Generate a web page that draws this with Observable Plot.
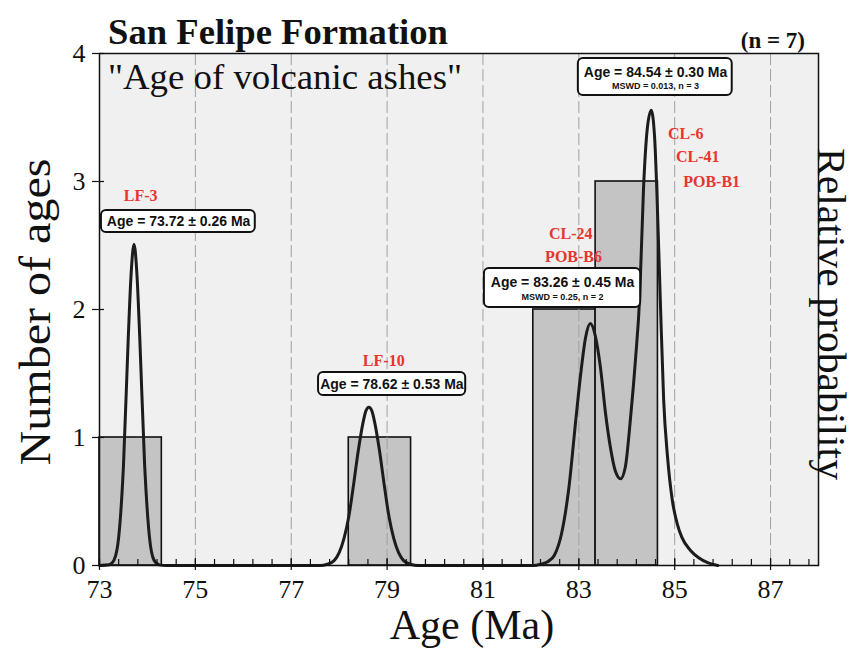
<!DOCTYPE html>
<html><head><meta charset="utf-8">
<script src="https://cdn.jsdelivr.net/npm/d3@7"></script>
<script src="https://cdn.jsdelivr.net/npm/@observablehq/plot@0.6"></script>
<style>body{margin:0;background:#fff} svg{display:block}</style>
</head><body><div id="chart"></div>
<script>
// Relative probability curve
const curveAge = [73.0, 73.2, 73.3, 73.4, 73.5, 73.6, 73.66, 73.72, 73.78, 73.84, 73.94, 74.04, 74.14, 74.25, 74.4,
  77.6, 77.75, 77.9, 78.0, 78.1, 78.2, 78.3, 78.4, 78.5, 78.56, 78.62, 78.68, 78.74, 78.84, 78.94, 79.04, 79.14, 79.24, 79.34, 79.49, 79.65,
  82.05, 82.2, 82.35, 82.49, 82.64, 82.79, 82.94, 83.04, 83.14, 83.24, 83.34, 83.45, 83.56, 83.66, 83.76, 83.87, 83.97, 84.08, 84.18, 84.27,
  84.35, 84.43, 84.51, 84.58, 84.63, 84.70, 84.77, 84.85, 84.95, 85.05, 85.15, 85.33, 85.5, 85.7, 85.9];
const curveProb = [0, 0.005, 0.04, 0.22, 0.78, 1.78, 2.28, 2.51, 2.28, 1.78, 0.80, 0.23, 0.04, 0.005, 0,
  0, 0.01, 0.04, 0.10, 0.21, 0.38, 0.63, 0.90, 1.12, 1.21, 1.236, 1.21, 1.12, 0.90, 0.63, 0.38, 0.21, 0.10, 0.04, 0.01, 0,
  0, 0.01, 0.03, 0.08, 0.25, 0.60, 1.15, 1.50, 1.78, 1.89, 1.80, 1.55, 1.18, 0.92, 0.74, 0.677, 0.77, 1.16, 1.60, 2.10,
  2.95, 3.42, 3.557, 3.35, 2.90, 2.07, 1.29, 0.85, 0.51, 0.33, 0.22, 0.117, 0.06, 0.02, 0];

// Histogram bins
const binStart = [73.0, 78.2, 82.05, 83.35];
const binEnd   = [74.3, 79.5, 83.35, 84.65];
const binCount = [1, 1, 2, 3];

// Axis ticks
const xTickLabels = [73, 75, 77, 79, 81, 83, 85, 87];
const gridAges = [75, 77, 79, 81, 83, 85, 87];
const yTickLabels = [0, 1, 2, 3, 4];
const minorTicks = d3.range(0, 38).map(k => +(73 + 0.4 * k).toFixed(1));

// Sample labels
const sampleNames = ["LF-3", "LF-10", "CL-24", "POB-B6", "CL-6", "CL-41", "POB-B1"];
const sampleX = [73.86, 78.93, 82.83, 82.89, 85.23, 85.48, 85.77];
const sampleY = [2.89, 1.60, 2.59, 2.41, 3.375, 3.19, 3.0];

// Age annotation boxes
const ageTexts  = ["Age = 73.72 ± 0.26 Ma", "Age = 78.62 ± 0.53 Ma", "Age = 83.26 ± 0.45 Ma", "Age = 84.54 ± 0.30 Ma"];
const mswdTexts = ["", "", "MSWD = 0.25, n = 2", "MSWD = 0.013, n = 3"];
const boxX1 = [73.04, 77.57, 81.03, 82.99];
const boxX2 = [76.25, 80.64, 84.29, 86.20];
const boxY1 = [2.602, 1.328, 2.016, 3.672];
const boxY2 = [2.773, 1.508, 2.320, 3.961];
const boxTextX = [74.65, 79.10, 82.66, 84.60];
const ageTextY = [2.688, 1.414, 2.211, 3.852];
const mswdTextY = [null, null, 2.094, 3.742];

const curve = curveAge.map((a, i) => ({age: a, p: curveProb[i]}));
const bins = binStart.map((s, i) => ({x1: s, x2: binEnd[i], n: binCount[i]}));
const boxIdx = d3.range(ageTexts.length);
const mswdIdx = boxIdx.filter(i => mswdTexts[i]);
const sIdx = d3.range(sampleNames.length);

const serif = "Liberation Serif, Times New Roman, serif";
const sans = "Liberation Sans, Arial, sans-serif";
const red = "#e8352e";

const svg = Plot.plot({
  width: 866,
  height: 649,
  marginLeft: 99,
  marginRight: 48,
  marginTop: 53,
  marginBottom: 84,
  style: {background: "white", overflow: "visible"},
  x: {domain: [73, 88], label: null},
  y: {domain: [0, 4], label: null},
  marks: [
    Plot.frame({fill: "#f0f0f0", stroke: "none"}),
    Plot.rect(bins, {x1: "x1", x2: "x2", y1: 0, y2: "n", fill: "#c4c4c4", stroke: "#111", strokeWidth: 1.6}),
    Plot.ruleX(gridAges, {stroke: "#a0a0a0", strokeWidth: 1, strokeDasharray: "12,4"}),
    Plot.line(curve, {x: "age", y: "p", curve: "monotone-x", stroke: "#1c1c1c", strokeWidth: 3}),
    Plot.rect(boxIdx, {x1: i => boxX1[i], x2: i => boxX2[i], y1: i => boxY1[i], y2: i => boxY2[i], fill: "white", stroke: "#111", strokeWidth: 2, rx: 5}),
    Plot.text(boxIdx, {x: i => boxTextX[i], y: i => ageTextY[i], text: i => ageTexts[i], fontFamily: sans, fontWeight: "bold", fontSize: 14, fill: "#111"}),
    Plot.text(mswdIdx, {x: i => boxTextX[i], y: i => mswdTextY[i], text: i => mswdTexts[i], fontFamily: sans, fontWeight: "bold", fontSize: 9, fill: "#111"}),
    Plot.text(sIdx, {x: i => sampleX[i], y: i => sampleY[i], text: i => sampleNames[i], fontFamily: serif, fontWeight: "bold", fontSize: 16, fill: red}),
    Plot.frame({stroke: "#111", strokeWidth: 1.5}),
    // minor x ticks (inward)
    Plot.axisX(minorTicks, {anchor: "bottom", tickSize: 6, dy: -6, text: null, label: null, stroke: "#111", strokeWidth: 1.2}),
    // major x ticks (crossing)
    Plot.axisX(xTickLabels, {anchor: "bottom", tickSize: 12, dy: -7, text: null, label: null, stroke: "#111", strokeWidth: 1.2}),
    Plot.axisX(xTickLabels, {anchor: "bottom", tickSize: 0, tickPadding: 14, tickFormat: "d", label: null, fontSize: 26, fontFamily: serif, fill: "#111"}),
    Plot.axisY(yTickLabels, {anchor: "left", tickSize: 12, dx: 5, text: null, label: null, stroke: "#111", strokeWidth: 1.2}),
    Plot.axisY(yTickLabels, {anchor: "left", tickSize: 0, tickPadding: 14, tickFormat: "d", label: null, fontSize: 26, fontFamily: serif, fill: "#111"})
  ]
});

const s = d3.select(svg);
s.append("text").attr("x", 108).attr("y", 44).attr("text-anchor", "start").attr("font-family", serif).attr("font-weight", "bold")
  .attr("font-size", 36).attr("textLength", 340).attr("lengthAdjust", "spacingAndGlyphs").attr("fill", "#111").text("San Felipe Formation");
s.append("text").attr("x", 805).attr("y", 48).attr("text-anchor", "end").attr("font-family", serif).attr("font-weight", "bold")
  .attr("font-size", 23).attr("fill", "#111").text("(n = 7)");
s.append("text").attr("x", 108).attr("y", 89).attr("text-anchor", "start").attr("font-family", serif)
  .attr("font-size", 35).attr("textLength", 354).attr("lengthAdjust", "spacingAndGlyphs").attr("fill", "#111").text("\"Age of volcanic ashes\"");
s.append("text").attr("x", 472).attr("y", 639).attr("text-anchor", "middle").attr("font-family", serif)
  .attr("font-size", 42).attr("fill", "#111").text("Age (Ma)");
s.append("text").attr("transform", "translate(50,312) rotate(-90)").attr("text-anchor", "middle").attr("font-family", serif)
  .attr("font-size", 44).attr("textLength", 307).attr("lengthAdjust", "spacingAndGlyphs").attr("fill", "#111").text("Number of ages");
s.append("text").attr("transform", "translate(818,314) rotate(90)").attr("text-anchor", "middle").attr("font-family", serif)
  .attr("font-size", 41).attr("textLength", 332).attr("lengthAdjust", "spacingAndGlyphs").attr("fill", "#111").text("Relative probability");

document.getElementById("chart").appendChild(svg);
</script>
</body></html>
